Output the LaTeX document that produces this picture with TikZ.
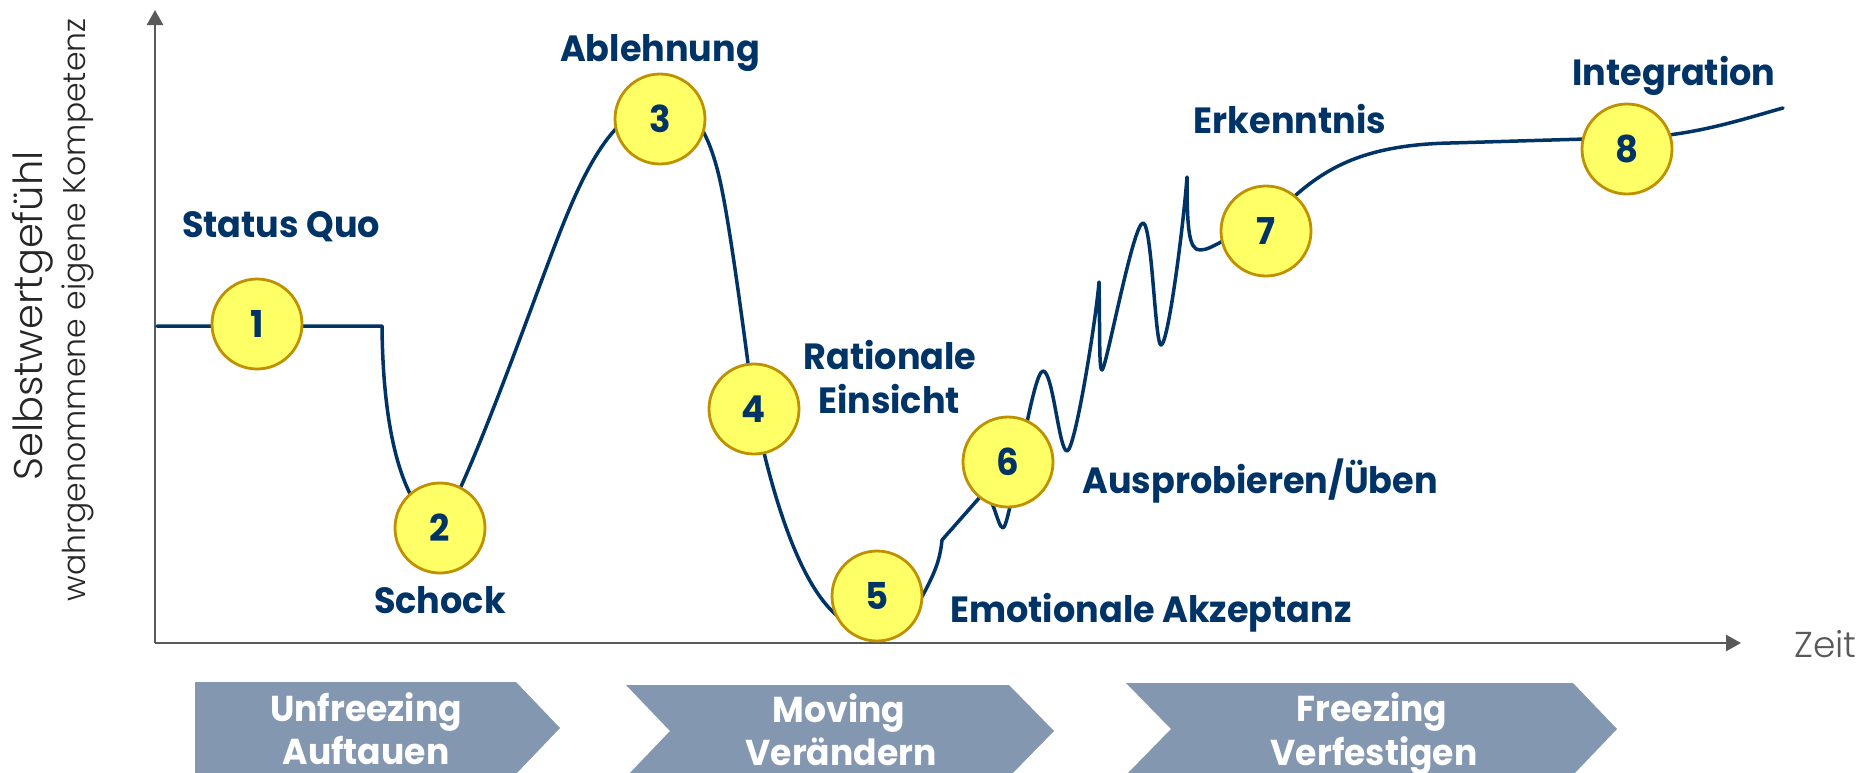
\documentclass[tikz,border=0pt]{standalone}
\usepackage{fontspec}
\setmainfont{Poppins}[FakeStretch=0.96]
\newfontfamily\thinfont{Poppins Light}
\usetikzlibrary{arrows.meta}
\definecolor{navy}{HTML}{003366}
\definecolor{gold}{HTML}{BF9000}
\definecolor{lemon}{HTML}{FFFF66}
\definecolor{steel}{HTML}{8497B0}
\definecolor{axisgray}{HTML}{595959}
\definecolor{inkgray}{HTML}{262626}
\begin{document}
\begin{tikzpicture}[x=1pt,y=-1pt,
  axis/.style={draw=axisgray, line width=2.5pt, -{Triangle[length=15pt,width=16pt]}},
  curve/.style={draw=navy, line width=3.5pt, line join=round, line cap=round},
  stage/.style={circle, draw=gold, line width=2.8pt, fill=lemon, minimum size=90pt,
    inner sep=0pt, text=navy, font=\fontsize{37}{40}\selectfont\bfseries},
  lbl/.style={text=navy, font=\fontsize{36.5}{40}\selectfont\bfseries, inner sep=0pt, anchor=base},
  phase/.style={fill=steel, draw=none},
  phaselbl/.style={text=white, font=\fontsize{36}{40}\selectfont\bfseries, inner sep=0pt, anchor=base},
  axlbl/.style={text=inkgray, inner sep=0pt, anchor=base, rotate=90}
]
\useasboundingbox (0,0) rectangle (1868,772);

% axes
\coordinate (origin) at (155,643);
\coordinate (ytop) at (155,10);
\coordinate (xend) at (1741,643);
\draw[axis] (origin) -- (ytop);
\draw[axis] (origin) -- (xend);
\node[axlbl, font=\thinfont\fontsize{40}{44}\selectfont] (ylab1) at (42,316) {Selbstwertgefühl};
\node[axlbl, font=\thinfont\fontsize{31.5}{36}\selectfont] (ylab2) at (85,310) {wahrgenommene eigene Kompetenz};
\node[text=axisgray, inner sep=0pt, anchor=base west, font=\thinfont\fontsize{36}{40}\selectfont] (xlab) at (1794,657) {Zeit};

% change curve
\draw[curve] (157,326) -- (382,326)
  .. controls (383,440) and (405,510) .. (440,528)
  .. controls (470,480) and (530,310) .. (555,245)
  .. controls (580,180) and (610,110) .. (660,103)
  .. controls (695,100) and (712,140) .. (722,190)
  .. controls (732,240) and (745,340) .. (754,409)
  .. controls (763,450) and (790,580) .. (840,618)
  .. controls (865,637) and (905,630) .. (924,593)
  .. controls (935,572) and (940,560) .. (942,540)
  -- (980,497)
  .. controls (992,484) and (997,528) .. (1003,528)
  .. controls (1010,528) and (1032,371) .. (1043,371)
  .. controls (1053,371) and (1059,451) .. (1067,451)
  .. controls (1075,451) and (1096,320) .. (1099,282)
  .. controls (1100,340) and (1099,370) .. (1102,370)
  .. controls (1106,370) and (1133,223) .. (1143,223)
  .. controls (1152,223) and (1155,345) .. (1161,345)
  .. controls (1168,345) and (1183,230) .. (1187,177)
  .. controls (1187,230) and (1189,250) .. (1200,250)
  .. controls (1207,250) and (1213,246) .. (1225,240)
  .. controls (1245,230) and (1260,225) .. (1280,210)
  .. controls (1320,170) and (1360,145) .. (1450,143)
  .. controls (1520,141) and (1580,139) .. (1627,138)
  .. controls (1690,137) and (1740,120) .. (1783,108);

% numbered stages
\node[stage] (c1) at (257,324) {1};
\node[stage] (c2) at (440,528) {2};
\node[stage] (c3) at (660,119) {3};
\node[stage] (c4) at (754,409) {4};
\node[stage] (c5) at (877,596) {5};
\node[stage] (c6) at (1008,462) {6};
\node[stage] (c7) at (1266,231) {7};
\node[stage] (c8) at (1627,149) {8};

% stage names
\node[lbl] (l1) at (281,237) {Status Quo};
\node[lbl] (l2) at (440,613) {Schock};
\node[lbl] (l3) at (660,61) {Ablehnung};
\node[lbl] (l4a) at (890,369) {Rationale};
\node[lbl] (l4b) at (889,413) {Einsicht};
\node[lbl] (l5) at (1151,622) {Emotionale Akzeptanz};
\node[lbl] (l6) at (1260,493) {Ausprobieren/Üben};
\node[lbl] (l7) at (1290,133) {Erkenntnis};
\node[lbl] (l8) at (1674,85) {Integration};

% phases
\path[phase] (195,682) -- (516,682) -- (560,728) -- (516,774) -- (195,774) -- cycle;
\path[phase] (626,685) -- (1009,685) -- (1054,731) -- (1009,777) -- (626,777) -- (670,731) -- cycle;
\path[phase] (1126,683) -- (1573,683) -- (1617,729) -- (1573,775) -- (1126,775) -- (1171,729) -- cycle;
\node[phaselbl] (p1a) at (366,721) {Unfreezing};
\node[phaselbl] (p1b) at (366,764) {Auftauen};
\node[phaselbl] (p2a) at (839,722) {Moving};
\node[phaselbl] (p2b) at (841,765) {Verändern};
\node[phaselbl] (p3a) at (1372,721) {Freezing};
\node[phaselbl] (p3b) at (1374,765) {Verfestigen};
\end{tikzpicture}
\end{document}
